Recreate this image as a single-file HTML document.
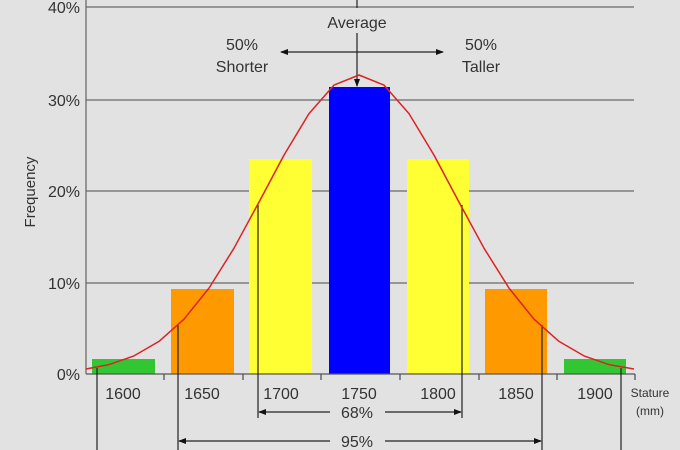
<!DOCTYPE html>
<html><head><meta charset="utf-8"><style>
body{margin:0;background:#e2e2e2;}
svg{display:block;font-family:"Liberation Sans",Arial,sans-serif;}
</style></head><body>
<svg width="680" height="450" viewBox="0 0 680 450">
<defs>
<marker id="ah" markerWidth="8" markerHeight="8" refX="7" refY="4" orient="auto" markerUnits="userSpaceOnUse"><path d="M0,1 L8,4 L0,7 z" fill="#111"/></marker>
</defs>
<rect width="680" height="450" fill="#e2e2e2"/>
<g stroke="#6a6a6a" stroke-width="1.3">
<line x1="86" y1="7" x2="634" y2="7"/>
<line x1="86" y1="100" x2="634" y2="100"/>
<line x1="86" y1="191" x2="634" y2="191"/>
<line x1="86" y1="283" x2="634" y2="283"/>
<line x1="86" y1="0" x2="86" y2="374"/>
</g>
<rect x="92" y="359" width="63" height="15" fill="#33c633"/>
<rect x="171" y="289" width="63" height="85" fill="#ff9900"/>
<rect x="249" y="159" width="63" height="215" fill="#ffff33"/>
<rect x="329" y="87" width="61" height="287" fill="#0000ff"/>
<rect x="407" y="159" width="62" height="215" fill="#ffff33"/>
<rect x="485" y="289" width="62" height="85" fill="#ff9900"/>
<rect x="564" y="359" width="62" height="15" fill="#33c633"/>
<g stroke="#555" stroke-width="1.3">
<line x1="86" y1="374" x2="635" y2="374"/>
<line x1="164" y1="374" x2="164" y2="380"/><line x1="243" y1="374" x2="243" y2="380"/>
<line x1="321" y1="374" x2="321" y2="380"/><line x1="400" y1="374" x2="400" y2="380"/>
<line x1="479" y1="374" x2="479" y2="380"/><line x1="557" y1="374" x2="557" y2="380"/>
<line x1="635" y1="374" x2="635" y2="380"/>
</g>
<g stroke="#222" stroke-width="1.2">
<line x1="97" y1="368" x2="97" y2="450"/>
<line x1="178" y1="325" x2="178" y2="450"/>
<line x1="258" y1="205" x2="258" y2="418"/>
<line x1="462" y1="205" x2="462" y2="418"/>
<line x1="542" y1="325" x2="542" y2="450"/>
<line x1="621" y1="368" x2="621" y2="450"/>
<line x1="357" y1="0" x2="357" y2="8"/>
<line x1="357" y1="33" x2="357" y2="86" marker-end="url(#ah)"/>
<line x1="357" y1="52" x2="281" y2="52" marker-end="url(#ah)"/>
<line x1="357" y1="52" x2="443" y2="52" marker-end="url(#ah)"/>
<line x1="330" y1="412" x2="259" y2="412" marker-end="url(#ah)"/>
<line x1="385" y1="412" x2="461" y2="412" marker-end="url(#ah)"/>
<line x1="330" y1="441" x2="179" y2="441" marker-end="url(#ah)"/>
<line x1="385" y1="441" x2="541" y2="441" marker-end="url(#ah)"/>
</g>
<polyline fill="none" stroke="#dd2222" stroke-width="1.5" stroke-linejoin="round" points="86,369 109,364.6 134,355.9 159,341.4 184,319.2 209,288.1 234,248.2 259,202.1 284,155.1 309,113.6 334,85.1 359,75 384,85.1 409,113.6 434,155.1 459,202.1 484,248.2 509,288.1 534,319.2 559,341.4 584,355.9 609,364.6 634,369"/>
<g fill="#333" font-size="16">
<text x="80" y="13" text-anchor="end">40%</text>
<text x="80" y="106" text-anchor="end">30%</text>
<text x="80" y="197" text-anchor="end">20%</text>
<text x="80" y="289" text-anchor="end">10%</text>
<text x="80" y="380" text-anchor="end">0%</text>
<text x="123" y="399" text-anchor="middle">1600</text>
<text x="202" y="399" text-anchor="middle">1650</text>
<text x="281" y="399" text-anchor="middle">1700</text>
<text x="359" y="399" text-anchor="middle">1750</text>
<text x="438" y="399" text-anchor="middle">1800</text>
<text x="516" y="399" text-anchor="middle">1850</text>
<text x="595" y="399" text-anchor="middle">1900</text>
<text x="357" y="418" text-anchor="middle">68%</text>
<text x="357" y="447" text-anchor="middle">95%</text>
<text x="357" y="28" text-anchor="middle">Average</text>
<text x="242" y="50" text-anchor="middle">50%</text>
<text x="242" y="72" text-anchor="middle">Shorter</text>
<text x="481" y="50" text-anchor="middle">50%</text>
<text x="481" y="72" text-anchor="middle">Taller</text>
<text transform="translate(35,192) rotate(-90)" text-anchor="middle" font-size="15">Frequency</text>
<text x="650" y="397" text-anchor="middle" font-size="12">Stature</text>
<text x="650" y="415" text-anchor="middle" font-size="12">(mm)</text>
</g>
</svg>
</body></html>
